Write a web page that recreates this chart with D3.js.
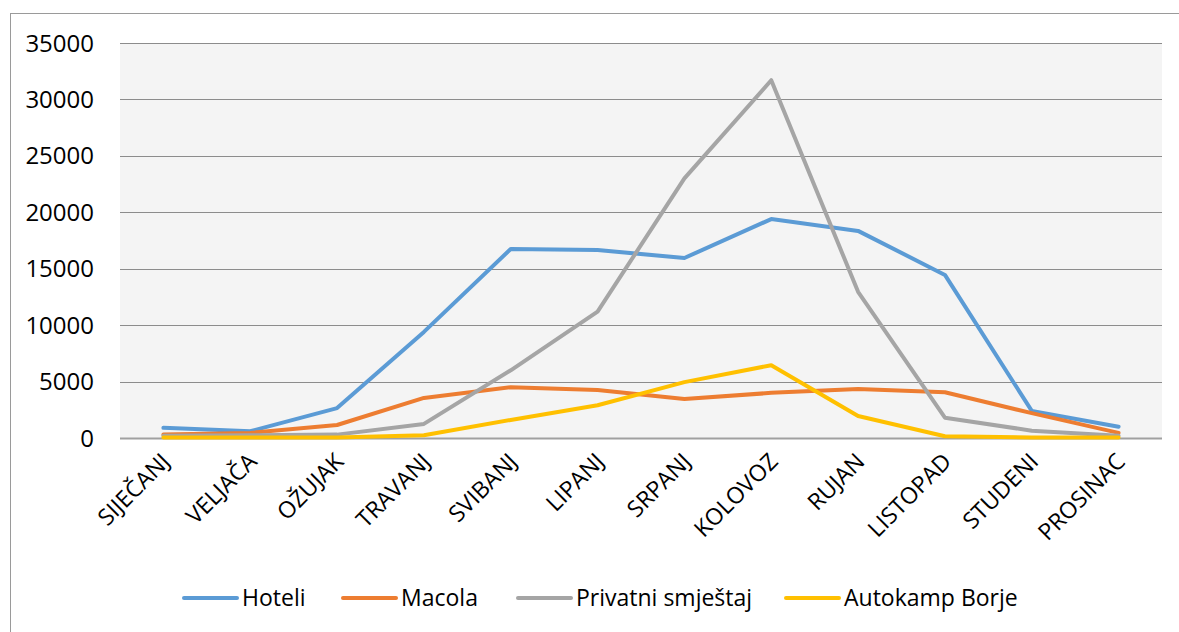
<!DOCTYPE html>
<html>
<head>
<meta charset="utf-8">
<script src="https://cdn.jsdelivr.net/npm/d3@7"></script>
<style>
  body { margin: 0; background: #fff; }
  svg { display: block; font-family: "Open Sans", sans-serif; }
</style>
</head>
<body>
<svg id="chart" width="1179" height="632"></svg>
<script>
const months = ["SIJEČANJ", "VELJAČA", "OŽUJAK", "TRAVANJ", "SVIBANJ", "LIPANJ",
  "SRPANJ", "KOLOVOZ", "RUJAN", "LISTOPAD", "STUDENI", "PROSINAC"];
const yTicks = [0, 5000, 10000, 15000, 20000, 25000, 30000, 35000];

const hoteli = [900, 600, 2650, 9400, 16750, 16650, 15950, 19400, 18350, 14450, 2400, 1000];
const macola = [300, 450, 1150, 3550, 4500, 4250, 3450, 4000, 4350, 4050, 2200, 450];
const privatni = [200, 250, 300, 1250, 6000, 11200, 23000, 31700, 12950, 1800, 650, 200];
const autokamp = [50, 50, 50, 250, 1600, 2900, 4950, 6450, 1950, 150, 50, 50];

const series = [
  {name: "Hoteli", values: hoteli, color: "#5b9bd5"},
  {name: "Macola", values: macola, color: "#ed7d31"},
  {name: "Privatni smještaj", values: privatni, color: "#a5a5a5"},
  {name: "Autokamp Borje", values: autokamp, color: "#ffc000"}
];

const svg = d3.select("#chart");
const plot = {left: 120, right: 1162, top: 43, bottom: 438};

// outer chart frame (right and bottom edges fall outside the picture)
svg.append("rect")
  .attr("x", 10.5).attr("y", 13.5)
  .attr("width", 1300).attr("height", 800)
  .attr("fill", "#fff").attr("stroke", "#9a9a9a").attr("stroke-width", 1);

const x = d3.scaleBand().domain(months).range([plot.left, plot.right]);
const y = d3.scaleLinear().domain([0, 35000]).range([plot.bottom, plot.top]);

svg.append("rect")
  .attr("x", plot.left).attr("y", plot.top)
  .attr("width", plot.right - plot.left).attr("height", plot.bottom - plot.top)
  .attr("fill", "#f4f4f4");

// gridlines
svg.append("g").selectAll("line")
  .data(yTicks).enter().append("line")
  .attr("x1", plot.left).attr("x2", plot.right)
  .attr("y1", d => Math.round(y(d)) + 0.5).attr("y2", d => Math.round(y(d)) + 0.5)
  .attr("stroke", d => d === 0 ? "#a0a0a0" : "#8c8c8c")
  .attr("stroke-width", d => d === 0 ? 2 : 1);

// y labels
svg.append("g").selectAll("text")
  .data(yTicks).enter().append("text")
  .attr("x", 94).attr("y", d => y(d))
  .attr("dy", "0.36em")
  .attr("text-anchor", "end")
  .attr("font-size", 24)
  .attr("fill", "#000")
  .text(d => d);

// x labels
svg.append("g").selectAll("text")
  .data(months).enter().append("text")
  .attr("transform", d => "translate(" + (x(d) + x.bandwidth() / 2 + 8) + "," + 463 + ") rotate(-45)")
  .attr("text-anchor", "end")
  .attr("font-size", 23)
  .attr("fill", "#000")
  .text(d => d);

const line = d3.line()
  .x((d, i) => x(months[i]) + x.bandwidth() / 2)
  .y(d => y(d));

svg.append("g").selectAll("path")
  .data(series).enter().append("path")
  .attr("fill", "none")
  .attr("stroke", d => d.color)
  .attr("stroke-width", 4)
  .attr("stroke-linejoin", "round")
  .attr("stroke-linecap", "round")
  .attr("d", d => line(d.values));

// legend
const legendX = [184, 343, 518, 786];
const legend = svg.append("g").selectAll("g")
  .data(series).enter().append("g")
  .attr("transform", (d, i) => "translate(" + legendX[i] + ",598)");
legend.append("line")
  .attr("x1", 0).attr("x2", 53)
  .attr("stroke", d => d.color)
  .attr("stroke-width", 4)
  .attr("stroke-linecap", "round");
legend.append("text")
  .attr("x", 58).attr("dy", "0.36em")
  .attr("font-size", 23)
  .attr("fill", "#000")
  .text(d => d.name);
</script>
</body>
</html>
